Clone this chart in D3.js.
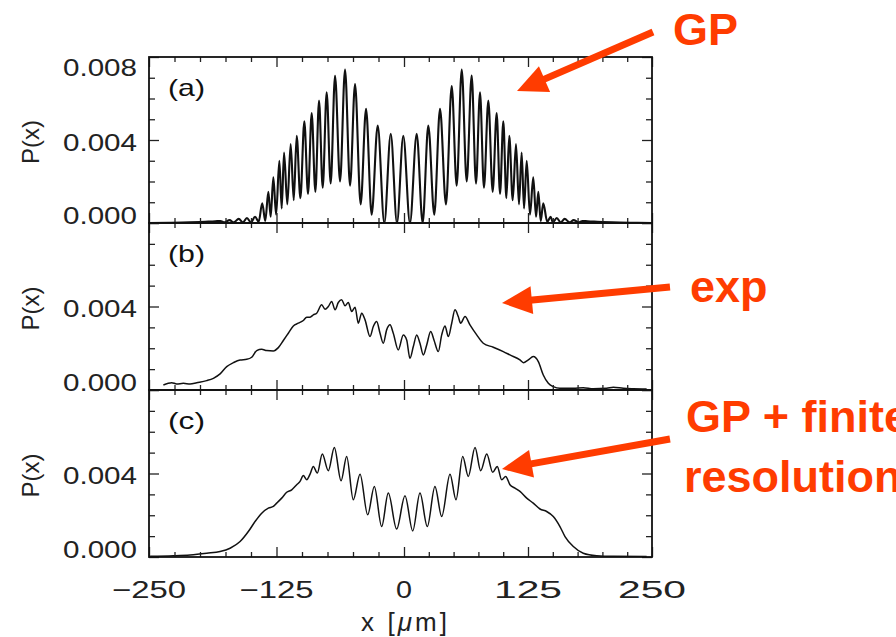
<!DOCTYPE html>
<html><head><meta charset="utf-8">
<script src="https://cdn.jsdelivr.net/npm/d3@7"></script>
<style>body{margin:0;background:#fff;} svg{display:block;}</style>
</head><body>
<svg id="chart" width="896" height="637"></svg>
<script>
// ---------- DATA (x in µm, P in units of 10^-3) ----------
// (a) GP theory
const xA = [-250,-230,-210,-195,-185,-180,-176,-171,-167,-162,
  -158,-154,-150,
  -146.0,-142.5,-139.0,-136.0,-133.0,-130.7,-128.1,-125.4,-122.2,-119.9,
  -117.6,-114.4,-111.1,-108.1,-105.2,-101.6,-97.7,-94.1,-90.5,-86.9,
  -83.3,-79.7,-75.8,-71.9,-67.6,-62.7,-57.8,-52.9,-48.0,-42.5,
  -37.2,-31.7,-25.8,-19.3,-13.0,-6.9,-0.7,6.0,12.8,18.8,
  24.5,30.5,36.3,42.3,48.1,53.1,58.2,63.2,68.2,72.6,
  76.6,80.6,85.0,89.4,93.4,96.8,100.1,103.2,106.1,109.6,
  112.9,115.9,118.6,121.0,123.7,127.0,130.3,133.1,135.4,137.8,
  140.4,144.4,147.9,
  150,154,158,162,167,171,176,180,185,195,
  210,230,250];
const pA = [0,0.01,0.03,0.06,0.08,0.10,0.03,0.14,0.03,0.20,
  0.03,0.24,0.03,
  0.30,0.06,0.95,0.10,1.5,0.3,2.2,0.4,3.0,0.7,
  3.4,0.9,3.8,1.1,4.2,1.2,4.9,1.4,5.3,1.5,
  5.9,1.7,6.3,1.9,7.1,2.0,7.4,1.8,6.7,0.9,
  5.5,0.4,4.7,0,4.3,0,4.2,0,4.3,0,
  4.7,0.4,5.5,0.9,6.6,1.8,7.4,2.0,7.1,1.9,
  6.3,1.7,5.9,1.5,5.3,1.4,4.9,1.2,4.2,1.1,
  3.8,0.9,3.4,0.7,3.0,0.4,2.2,0.3,1.5,0.1,
  0.95,0.06,0.30,
  0.03,0.24,0.03,0.20,0.03,0.14,0.03,0.10,0.08,0.06,
  0.03,0.01,0];
// (b) experiment
const xB = [-235.9,-227.7,-222.8,-216.3,-209.7,-203.2,-193.4,-186.9,-180.3,-173.8,
  -167.3,-160.7,-154.2,-149.3,-144.4,-139.5,-134.6,-128.1,-123.2,-118.3,
  -113.4,-108.5,-103.6,-98.7,-95.4,-92.1,-88.9,-85.6,-80.7,-77.4,
  -74.2,-70.9,-67.6,-64.4,-61.1,-57.8,-54.6,-51.3,-48.0,-44.8,
  -41.5,-38.2,-33.3,-30.1,-26.8,-23.5,-20.3,-17.0,-13.7,-10.5,
  -5.6,-0.7,2.7,6.0,9.4,12.8,16.1,19.5,22.9,26.9,
  30.2,34.6,38.0,41.3,44.7,48.1,51.4,54.7,57.1,61.5,
  66.5,73.3,79.9,90.0,100.1,106.8,116.9,120.3,125.3,130.3,
  135.4,140.4,145.5,150.5,157.2,170.7,180.7,190.8,204.3,211.0,
  221.1,231.2,244.6];
const pB = [0.24,0.35,0.29,0.32,0.29,0.35,0.45,0.56,0.77,1.12,
  1.31,1.44,1.47,1.57,1.89,1.95,1.89,1.87,2.03,2.37,
  2.72,3.07,3.20,3.33,3.49,3.49,3.60,3.68,4.08,3.87,
  4.00,4.24,3.84,4.19,4.32,4.03,4.19,3.76,3.97,3.20,
  3.68,3.36,2.56,3.04,3.28,2.72,2.24,2.88,3.12,2.72,
  1.92,2.64,2.40,1.52,2.08,2.64,2.24,1.68,2.16,2.80,
  2.40,1.84,2.64,3.07,2.56,3.20,3.84,3.52,3.20,3.52,
  3.12,2.64,2.24,2.05,1.84,1.68,1.44,1.31,1.44,1.60,
  1.36,0.72,0.32,0.16,0.08,0.08,0.11,0.06,0.08,0.13,
  0.08,0.06,0.05];
// (c) GP + finite resolution
const xC = [-248.9,-226.1,-209.7,-193.4,-180.3,-170.5,-160.7,-152.6,-146.0,-139.5,
  -133.0,-128.1,-124.8,-119.9,-115.0,-110.1,-105.2,-101.9,-98.7,-95.4,
  -92.1,-88.9,-85.0,-80.1,-74.2,-68.3,-61.7,-56.2,-49.7,-43.1,
  -35.6,-29.1,-21.9,-15.4,-7.2,1.0,8.8,16.1,23.5,31.2,
  38.0,46.4,52.4,59.2,64.8,71.6,77.3,83.4,89.4,94.0,
  98.5,102.5,106.8,111.9,116.9,123.7,130.3,137.1,143.8,150.5,
  157.2,162.3,170.7,180.7,194.2,211.0,244.6];
const pC = [0.03,0.06,0.10,0.18,0.26,0.42,0.74,1.22,1.70,2.10,
  2.34,2.42,2.58,2.82,3.10,3.22,3.46,3.62,3.90,3.70,
  3.97,4.34,4.02,4.93,4.13,5.25,3.65,4.82,2.74,3.97,
  2.02,3.38,1.46,3.06,1.34,2.94,1.25,3.06,1.46,3.38,
  1.94,3.97,2.74,4.82,3.86,5.25,4.13,4.93,4.06,4.34,
  3.70,3.86,3.46,3.30,3.14,2.82,2.58,2.30,2.18,1.94,
  1.46,0.98,0.50,0.18,0.06,0.03,0.02];

const xMajor = [-250,-125,0,125,250];
const xMinor = [-225,-200,-175,-150,-100,-75,-50,-25,25,50,75,100,150,175,200,225];
const xTickLabels = ["\u2212250","\u2212125","0","125","250"];
const yMajor = [0,4,8];
const yMinor = [1,2,3,5,6,7];
const panelLetters = ["(a)","(b)","(c)"];
const yLabelSets = [[0,4,8],[0,4],[0,4]];
const annotations = ["GP","exp","GP + finite","resolution"];

// ---------- LAYOUT ----------
const svg = d3.select("#chart");
const RED = "#ff3c00";
const FONT = "'Liberation Sans', Arial, sans-serif";
const x = d3.scaleLinear().domain([-250,0,250]).range([149,404,652]);
const panelTops = [57,223,390], panelBottoms = [223,390,557];
const series = [[xA,pA],[xB,pB],[xC,pC]];

series.forEach((s, k) => {
  const top = panelTops[k], bot = panelBottoms[k];
  const y = d3.scaleLinear().domain([0,8]).range([bot, top]);
  const g = svg.append("g");
  const cid = "clip" + k;
  svg.append("clipPath").attr("id", cid).append("rect")
    .attr("x", x(-250)).attr("y", top).attr("width", x(250)-x(-250)).attr("height", bot-top);

  // curve
  const idx = d3.range(s[0].length);
  const line = d3.line().x(i => x(s[0][i])).y(i => y(s[1][i])).curve(d3.curveMonotoneX);
  g.append("path").attr("d", line(idx)).attr("fill","none")
    .attr("stroke","#111").attr("stroke-width", k===0 ? 2.1 : 1.5)
    .attr("stroke-linejoin","round").attr("clip-path", `url(#${cid})`);

  // ticks (inward, all four sides)
  const addAxis = (axis, tx, ty) => {
    const a = g.append("g").attr("transform", `translate(${tx},${ty})`).call(axis);
    a.select(".domain").remove();
    a.selectAll("line").attr("stroke","#222").attr("stroke-width",1.3);
    a.selectAll("text").remove();
  };
  addAxis(d3.axisLeft(y).tickValues(yMinor).tickSize(-6), x(-250), 0);
  addAxis(d3.axisLeft(y).tickValues(yMajor).tickSize(-10), x(-250), 0);
  addAxis(d3.axisRight(y).tickValues(yMinor).tickSize(-6), x(250), 0);
  addAxis(d3.axisRight(y).tickValues(yMajor).tickSize(-10), x(250), 0);
  addAxis(d3.axisBottom(x).tickValues(xMinor).tickSize(-5), 0, bot);
  addAxis(d3.axisBottom(x).tickValues(xMajor).tickSize(-10), 0, bot);
  addAxis(d3.axisTop(x).tickValues(xMinor).tickSize(-5), 0, top);
  addAxis(d3.axisTop(x).tickValues(xMajor).tickSize(-10), 0, top);

  // frame
  g.append("rect").attr("x", x(-250)).attr("y", top)
    .attr("width", x(250)-x(-250)).attr("height", bot-top)
    .attr("fill","none").attr("stroke","#111").attr("stroke-width",1.8);

  // y tick labels
  yLabelSets[k].forEach(v => {
    const off = v === 0 ? -8 : (v === 8 ? 10 : 2);
    svg.append("text").attr("x", 63).attr("y", y(v) + off + 8.5)
      .attr("font-family", FONT).attr("font-size", 24).attr("fill","#222")
      .attr("textLength", 74).attr("lengthAdjust","spacingAndGlyphs")
      .text(d3.format(".3f")(v/1000));
  });
  // y title
  const cy = y(4) + 2;
  svg.append("text").attr("transform", `translate(39,${cy}) rotate(-90)`)
    .attr("text-anchor","middle").attr("font-family", FONT).attr("font-size", 24)
    .attr("fill","#222").text("P(x)");
  // panel letter
  svg.append("text").attr("x", 168).attr("y", top + 39)
    .attr("font-family", FONT).attr("font-size", 24).attr("fill","#111")
    .attr("textLength", 37).attr("lengthAdjust","spacingAndGlyphs")
    .text(panelLetters[k]);
});

// x tick labels
xMajor.forEach((v, i) => {
  const w = i < 2 ? 74 : (v === 0 ? 16 : 68);
  svg.append("text").attr("x", x(v) - w/2).attr("y", 598)
    .attr("font-family", FONT).attr("font-size", 24).attr("fill","#222")
    .attr("textLength", w).attr("lengthAdjust","spacingAndGlyphs")
    .text(xTickLabels[i]);
});
// x title
const xt = svg.append("text").attr("x", 361).attr("y", 631)
  .attr("font-family", FONT).attr("font-size", 26).attr("fill","#222")
  .attr("textLength", 86).attr("lengthAdjust","spacing");
xt.append("tspan").text("x [");
xt.append("tspan").attr("font-style","italic").text("\u03bc");
xt.append("tspan").text("m]");

// ---------- ANNOTATIONS ----------
function arrow(sx, sy, tx, ty) {
  const L = 30, W = 14;
  const dx = tx - sx, dy = ty - sy, len = Math.hypot(dx, dy);
  const ux = dx/len, uy = dy/len, nx = -uy, ny = ux;
  const bx = tx - L*ux, by = ty - L*uy;
  svg.append("line").attr("x1", sx).attr("y1", sy).attr("x2", bx + 2*ux).attr("y2", by + 2*uy)
    .attr("stroke", RED).attr("stroke-width", 7);
  svg.append("polygon").attr("points",
    `${tx},${ty} ${bx+W*nx},${by+W*ny} ${bx-W*nx},${by-W*ny}`).attr("fill", RED);
}
arrow(653, 32, 517, 91);
arrow(670, 287, 502, 303);
arrow(670, 439, 502, 469);

const noteStyle = t => t.attr("font-family", FONT).attr("font-weight","bold")
  .attr("font-size", 45).attr("fill", RED);
noteStyle(svg.append("text").attr("x", 673).attr("y", 45).text(annotations[0]));
noteStyle(svg.append("text").attr("x", 690).attr("y", 302).text(annotations[1]));
noteStyle(svg.append("text").attr("x", 686).attr("y", 432).attr("font-size", 47).text(annotations[2]));
noteStyle(svg.append("text").attr("x", 684).attr("y", 492).attr("font-size", 47).text(annotations[3]));
</script>
</body></html>
